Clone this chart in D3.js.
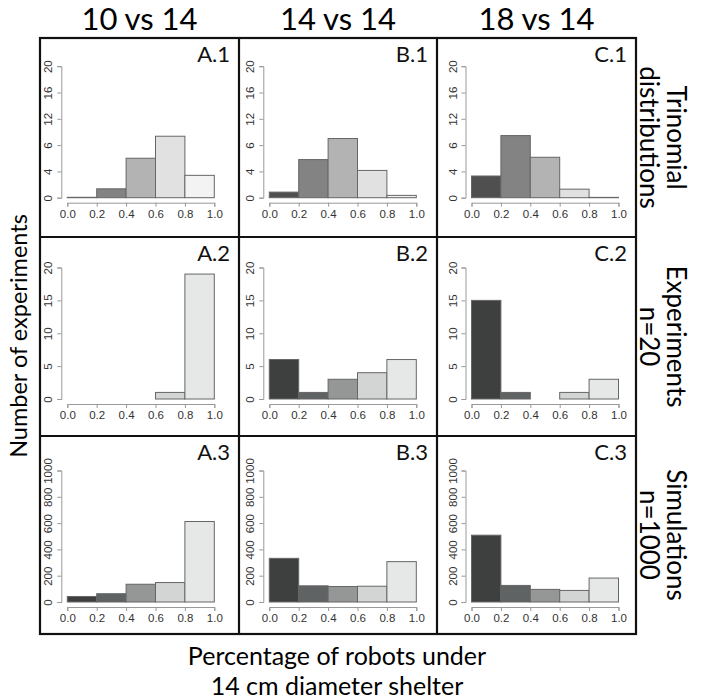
<!DOCTYPE html>
<html><head><meta charset="utf-8">
<script src="https://cdn.jsdelivr.net/npm/d3@7"></script>
<style>
body{margin:0;background:#fff;}
svg{display:block;}
</style></head>
<body>
<svg id="chart" width="704" height="699"></svg>
<script>
// ---- data ----
const binEdges = [0, 0.2, 0.4, 0.6, 0.8, 1.0];
const xTicks = [0, 0.2, 0.4, 0.6, 0.8, 1.0];
const columnTitles = ["10 vs 14", "14 vs 14", "18 vs 14"];
const rowTitles = [["Trinomial", "distributions"], ["Experiments", "n=20"], ["Simulations", "n=1000"]];
const panelLabels = [["A.1","B.1","C.1"],["A.2","B.2","C.2"],["A.3","B.3","C.3"]];

// row 1: trinomial distributions
const trinomA = [0.06, 1.35, 6.0, 9.35, 3.4];
const trinomB = [0.85, 5.8, 9.0, 4.15, 0.35];
const trinomC = [3.3, 9.45, 6.15, 1.3, 0.05];
// row 2: experiments n=20
const expA = [0, 0, 0, 1, 19];
const expB = [6, 1, 3, 4, 6];
const expC = [15, 1, 0, 1, 3];
// row 3: simulations n=1000
const simA = [42, 63, 135, 148, 612];
const simB = [332, 123, 118, 120, 307];
const simC = [508, 126, 96, 88, 182];

const row1Ticks = [0, 4, 8, 12, 16, 20];
const row1TickLabels = ["0", "4", "6", "12", "16", "20"];
const row2Ticks = [0, 5, 10, 15, 20];
const row3Ticks = [0, 200, 400, 600, 800, 1000];

const rowsData = [[trinomA, trinomB, trinomC], [expA, expB, expC], [simA, simB, simC]];
const rowMax = [20, 20, 1000];
const rowTicks = [row1Ticks, row2Ticks, row3Ticks];
const rowTickLabels = [row1TickLabels, row2Ticks.map(String), row3Ticks.map(String)];

const palRow1 = ["#4f4f4f", "#838383", "#b3b3b3", "#e1e1e1", "#f3f3f3"];
const palRow23 = ["#3e4040", "#5f6363", "#959797", "#d3d5d5", "#e6e8e8"];
const rowPal = [palRow1, palRow23, palRow23];

// ---- layout ----
const svg = d3.select("#chart");
const colEdges = [40, 239, 437, 636];
const rowEdges = [38, 237, 436, 634];
const plotX0 = [67.3, 269.3, 471.5];
const plotW = 147;
const plotY0 = [197.7, 399, 602];
const plotH = 131.5;
const FONT = "Lato, 'Open Sans', sans-serif";
const TICKFONT = "'Liberation Sans', Arial, Helvetica, sans-serif";

for (let r = 0; r < 3; r++) {
  for (let c = 0; c < 3; c++) {
    const vals = rowsData[r][c];
    const x = d3.scaleLinear().domain([0, 1]).range([plotX0[c], plotX0[c] + plotW]);
    const y = d3.scaleLinear().domain([0, rowMax[r]]).range([plotY0[r], plotY0[r] - plotH]);
    const g = svg.append("g");
    const bins = vals.map((v, i) => ({x0: binEdges[i], x1: binEdges[i+1], v, i}));
    g.selectAll("rect").data(bins).enter().append("rect")
      .attr("x", d => x(d.x0))
      .attr("width", d => x(d.x1) - x(d.x0))
      .attr("y", d => y(d.v))
      .attr("height", d => y(0) - y(d.v))
      .attr("fill", d => rowPal[r][d.i])
      .attr("stroke", "#666")
      .attr("stroke-width", 1);

    const xa = g.append("g").attr("transform", `translate(0,${plotY0[r] + 5})`)
      .call(d3.axisBottom(x).tickValues(xTicks).tickFormat(d3.format(".1f")).tickSizeOuter(0).tickSize(4).tickPadding(3));
    const ya = g.append("g").attr("transform", `translate(${plotX0[c] - 6},0)`)
      .call(d3.axisLeft(y).tickValues(rowTicks[r]).tickFormat((d, i) => rowTickLabels[r][i]).tickSizeOuter(0).tickSize(4).tickPadding(3));
    [xa, ya].forEach(a => {
      a.select(".domain").attr("stroke", "#999");
      a.selectAll(".tick line").attr("stroke", "#999");
      a.selectAll(".tick text").attr("fill", "#333").attr("font-size", 11.5).attr("font-family", TICKFONT);
    });
    ya.selectAll(".tick text")
      .attr("text-anchor", "middle")
      .attr("dy", 0)
      .attr("x", 0)
      .attr("transform", "translate(-9,0) rotate(-90)");

    svg.append("text")
      .attr("x", colEdges[c+1] - 9)
      .attr("y", rowEdges[r] + 24)
      .attr("text-anchor", "end")
      .attr("font-family", FONT)
      .attr("font-size", 22)
      .attr("fill", "#111")
      .text(panelLabels[r][c]);
  }
}

// grid lines
const gridG = svg.append("g").attr("stroke", "#111").attr("stroke-width", 2.2).attr("fill", "none");
gridG.append("rect").attr("x", colEdges[0]).attr("y", rowEdges[0])
  .attr("width", colEdges[3] - colEdges[0]).attr("height", rowEdges[3] - rowEdges[0]);
[colEdges[1], colEdges[2]].forEach(xv => gridG.append("line").attr("x1", xv).attr("x2", xv).attr("y1", rowEdges[0]).attr("y2", rowEdges[3]));
[rowEdges[1], rowEdges[2]].forEach(yv => gridG.append("line").attr("y1", yv).attr("y2", yv).attr("x1", colEdges[0]).attr("x2", colEdges[3]));

// column titles
columnTitles.forEach((t, c) => {
  svg.append("text")
    .attr("x", (colEdges[c] + colEdges[c+1]) / 2)
    .attr("y", 30)
    .attr("text-anchor", "middle")
    .attr("font-family", FONT)
    .attr("font-size", 31)
    .attr("fill", "#000")
    .text(t);
});

// row titles (right side, rotated clockwise)
rowTitles.forEach((lines, r) => {
  const cy = (rowEdges[r] + rowEdges[r+1]) / 2;
  const g = svg.append("g").attr("transform", `translate(667,${cy}) rotate(90)`);
  lines.forEach((ln, i) => {
    g.append("text")
      .attr("x", 0).attr("y", i * 27)
      .attr("text-anchor", "middle")
      .attr("font-family", FONT)
      .attr("font-size", 26)
      .attr("fill", "#000")
      .text(ln);
  });
});

// y axis title
svg.append("text")
  .attr("transform", `translate(27,336) rotate(-90)`)
  .attr("text-anchor", "middle")
  .attr("font-family", FONT)
  .attr("font-size", 23.5)
  .attr("fill", "#000")
  .text("Number of experiments");

// x axis title
svg.append("text").attr("x", 337).attr("y", 665).attr("text-anchor", "middle")
  .attr("font-family", FONT).attr("font-size", 25).attr("fill", "#000")
  .text("Percentage of robots under");
svg.append("text").attr("x", 337).attr("y", 695).attr("text-anchor", "middle")
  .attr("font-family", FONT).attr("font-size", 25).attr("fill", "#000")
  .text("14 cm diameter shelter");
</script>
</body></html>
